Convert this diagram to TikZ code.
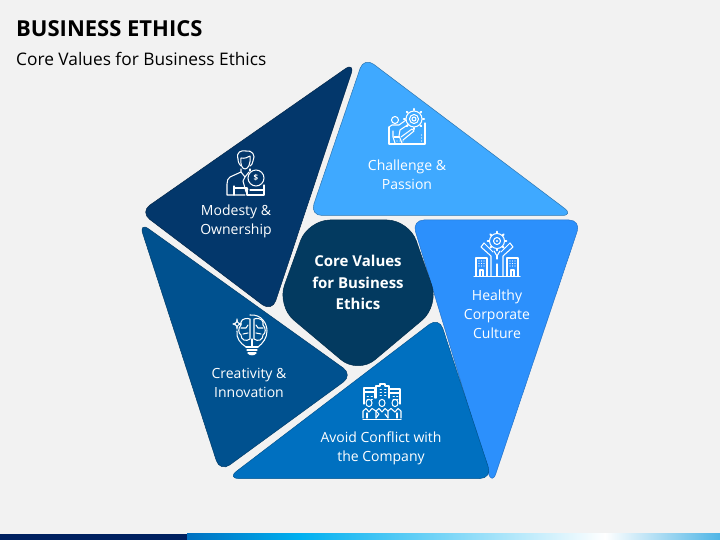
\documentclass[tikz,border=0pt]{standalone}
\usepackage{fontspec}
\setmainfont{Open Sans}
\definecolor{pagebg}{HTML}{F2F2F2}
\definecolor{modestyblue}{HTML}{03376B}
\definecolor{challengeblue}{HTML}{3FA9FF}
\definecolor{healthyblue}{HTML}{2C90FC}
\definecolor{avoidblue}{HTML}{0070C0}
\definecolor{creativeblue}{HTML}{00518F}
\definecolor{coreblue}{HTML}{033A60}
\definecolor{barnavy}{HTML}{002060}
\definecolor{barcyan}{HTML}{00B0F0}
\definecolor{barend}{HTML}{4FB5E6}
\tikzset{
    piece/.style={rounded corners=12pt, line width=.5pt},
    label/.style={text=white, align=center, font=\fontsize{14}{19}\selectfont},
    icon/.style={draw=white, line width=1.05pt, line join=round, line cap=round},
}
\begin{document}
\begin{tikzpicture}[x=1pt,y=-1pt]
    \useasboundingbox (0,0) rectangle (720,540);
    \fill [pagebg] (0,0) rectangle (720,540);
    % bottom bar
    \fill [left color=avoidblue, right color=barcyan] (187,533.5) rectangle (300,540);
    \fill [left color=barcyan, right color=white] (299.8,533.5) rectangle (605,540);
    \fill [left color=white, right color=barend] (604.8,533.5) rectangle (720,540);
    \fill [barnavy] (0,533.5) rectangle (187,540);
    % title
    \node (title) [anchor=west, inner sep=0pt, font=\bfseries\fontsize{22}{24}\selectfont] at (16,29) {BUSINESS ETHICS};
    \node (subtitle) [anchor=west, inner sep=0pt, font=\fontsize{17.3}{20}\selectfont] at (16,59) {Core Values for Business Ethics};
    % pieces
    \filldraw [piece, fill=modestyblue, draw=modestyblue!70!black] (355,62) -- (140,212) -- (272,312) -- cycle;
    \filldraw [piece, fill=challengeblue, draw=challengeblue!70!black] (364,57) -- (574,215.5) -- (310,215.5) -- cycle;
    \filldraw [piece, fill=healthyblue, draw=healthyblue!80!black] (412,220) -- (581,220) -- (492,485) -- cycle;
    \filldraw [piece, fill=avoidblue, draw=avoidblue!75!black] (439,317) -- (492,478.5) -- (227,478.5) -- cycle;
    \filldraw [piece, fill=creativeblue, draw=creativeblue!75!black] (139,222) -- (353,375) -- (220,472) -- cycle;
    \filldraw [fill=coreblue, draw=coreblue!80!black, rounded corners=22pt, line width=.5pt] (308,220) -- (409,220) -- (439,306) -- (358,374) -- (277,306) -- cycle;
    % labels
    \node (modesty) [label] at (236,221.5) {Modesty \&\\Ownership};
    \node (challenge) [label] at (407,174.5) {Challenge \&\\Passion};
    \node (healthy) [label] at (497,314) {Healthy\\Corporate\\Culture};
    \node (creativity) [label] at (249,382.5) {Creativity \&\\Innovation};
    \node (avoid) [label] at (381,448.5) {Avoid Conflict with\\the Company};
    \node (core) [label, font=\bfseries\fontsize{15}{21.5}\selectfont] at (358,282.5) {Core Values\\for Business\\Ethics};
    % modesty icon
    \draw [icon] (238,159) .. controls (236,152) and (241,150) .. (246,151) .. controls (252,150) and (256,155) .. (253,161) .. controls (253,164) and (251,165) .. (250,166);
    \draw [icon] (238,159) .. controls (238,163) and (240,165) .. (241,166);
    \draw [icon] (241,158) .. controls (245,159) and (248,157) .. (250,156) .. controls (251,164) and (248,169) .. (245,169) .. controls (242,169) and (240,164) .. (241,158);
    \draw [icon] (241,169) -- (241,172) -- (230,177) .. controls (228,178) and (227,181) .. (227,184) -- (227,195) -- (245,195);
    \draw [icon] (250,169) -- (250,171);
    \draw [icon] (241,172) -- (245,177) -- (249,172);
    \draw [icon] (245,177) -- (243,181) -- (246,192) -- (248,189);
    \draw [icon] (234,186) -- (234,195);
    \draw [icon] (234,188) -- (247,188);
    \draw [icon] (256,178) circle [radius=8];
    \draw [icon] (247,188) -- (247,195) -- (264,195) -- (264,185);
    \draw [icon] (250,190) -- (264,190);
    \node (dollar) [text=white, inner sep=0pt, font=\bfseries\fontsize{8}{8}\selectfont] at (256,178) {\$};
    % challenge icon
    \draw [icon] (414,119) circle [radius=8];
    \draw [icon] (414,119) circle [radius=4.5];
    \draw [icon] (414,119) circle [radius=2];
    \foreach \a in {0,45,...,315}
        \draw [icon, line width=1.8pt] (414,119) ++(\a:8.8) -- ++(\a:1.4);
    \draw [icon] (395,120) circle [radius=3.5];
    \draw [icon] (389,127) -- (389,144) -- (425,144) -- (425,123);
    \draw [icon] (389,127) -- (392,125) -- (399,125) -- (406,120);
    \draw [icon] (409,124) -- (400,130) -- (399,136) -- (402,143);
    \draw [icon] (393,131) -- (393,137) -- (395,143);
    \draw [icon] (394,137) -- (399,137);
    \draw [icon] (401,137) -- (412,129) -- (414,131) -- (403,140);
    \foreach \y in {135,138,141}
        \fill [white] (421.5,\y) circle [radius=.6];
    \foreach \x in {397,400,403}
        \fill [white] (\x,141) circle [radius=.6];
    % healthy icon
    \draw [icon] (497,241) circle [radius=7.5];
    \draw [icon] (497,241) circle [radius=3.5];
    \fill [white] (497,241) circle [radius=1.2];
    \foreach \a in {0,45,...,315}
        \draw [icon, line width=1.8pt] (497,241) ++(\a:8.2) -- ++(\a:1.3);
    \draw [icon] (484,243) -- (481,247) -- (491,256) -- (491,276);
    \draw [icon] (510,243) -- (513,247) -- (503,256) -- (503,276);
    \draw [icon] (484,243) -- (493,252);
    \draw [icon] (510,243) -- (501,252);
    \draw [icon] (494,251) -- (497,256) -- (500,251);
    \draw [icon] (497,256) -- (497,259);
    \draw [icon] (497,264) -- (497,276);
    \draw [icon] (474,276.5) -- (520,276.5);
    \draw [icon] (476,276) -- (476,258) -- (487,258) -- (487,276);
    \draw [icon] (507,276) -- (507,258) -- (518,258) -- (518,276);
    \foreach \x in {479,481.5,484,510,512.5,515}
        \foreach \y in {261,263.5,266}
            \fill [white] (\x,\y) circle [radius=.7];
    \draw [icon] (480,276) -- (480,270) -- (483,270) -- (483,276);
    \draw [icon] (511,276) -- (511,270) -- (514,270) -- (514,276);
    % creativity icon
    \draw [icon] (246,347) .. controls (240,343) and (236,338) .. (237,331);
    \draw [icon] (250,315) .. controls (262,314) and (267,324) .. (267,331) .. controls (267,338) and (263,343) .. (258,347);
    \draw [icon] (250,319) .. controls (243,317) and (240,321) .. (241,325) .. controls (238,328) and (238,333) .. (241,335) .. controls (241,340) and (246,342) .. (250,339) -- (250,319);
    \draw [icon] (254,319) .. controls (261,317) and (264,321) .. (263,325) .. controls (266,328) and (266,333) .. (263,335) .. controls (263,340) and (258,342) .. (254,339) -- (254,319);
    \draw [icon] (252,339) -- (252,347);
    \draw [icon] (241,328) -- (246,328) -- (248,325);
    \draw [icon] (263,328) -- (258,328) -- (256,325);
    \draw [icon] (243,334) -- (248,333);
    \draw [icon] (261,334) -- (256,333);
    \draw [icon] (246,347) -- (258,347);
    \draw [icon] (247,350) -- (257,350);
    \draw [icon] (248,353) -- (256,353);
    \draw [icon] (249,354) .. controls (250,355) and (254,355) .. (255,354);
    \draw [icon, fill=white, line width=.4pt] (237,318.5) -- (238,322.5) -- (241.5,324) -- (238,325.5) -- (237,329.5) -- (236,325.5) -- (232.5,324) -- (236,322.5) -- cycle;
    \fill [creativeblue] (237,322.5) -- (238.5,324) -- (237,325.5) -- (235.5,324) -- cycle;
    % avoid icon
    \draw [icon] (375,398) -- (375,388) -- (364,388) -- (364,404);
    \draw [icon] (364,392) -- (375,392);
    \draw [icon] (376,398) -- (376,386) -- (380,386) -- (380,384) -- (385,384) -- (385,386) -- (389,386) -- (389,398);
    \draw [icon] (389,389) -- (400,389) -- (400,404);
    \draw [icon] (389,393) -- (400,393);
    \foreach \x in {380,384.5}
        \foreach \y in {389,392,395}
            \draw [icon, line width=.8pt] (\x,\y) -- ++(1.5,0);
    \foreach \x in {367,371,393,396.5}
        \foreach \y in {396,399}
            \draw [icon, line width=.8pt] (\x,\y) -- ++(1.5,0);
    \foreach \x in {369,382,395}
        \draw [icon, fill=avoidblue] (\x,403) ellipse [x radius=3, y radius=3.6];
    \draw [icon] (363,418) -- (363,411) -- (366,408.5) -- (369,412) -- (372,408.5) -- (376,411) -- (379,414) -- (376,418);
    \draw [icon] (376,418) -- (376,411) -- (379,408.5) -- (382,412) -- (385,408.5) -- (388,411) -- (388,418);
    \draw [icon] (388,411) -- (391,408.5) -- (395,412) -- (398,408.5) -- (401,411) -- (401,418);
    \draw [icon] (385,414) -- (388,418);
    \draw [icon] (367,413) -- (367,418);
    \draw [icon] (397,413) -- (397,418);
    \draw [icon] (363,419.5) -- (401,419.5);
\end{tikzpicture}
\end{document}
